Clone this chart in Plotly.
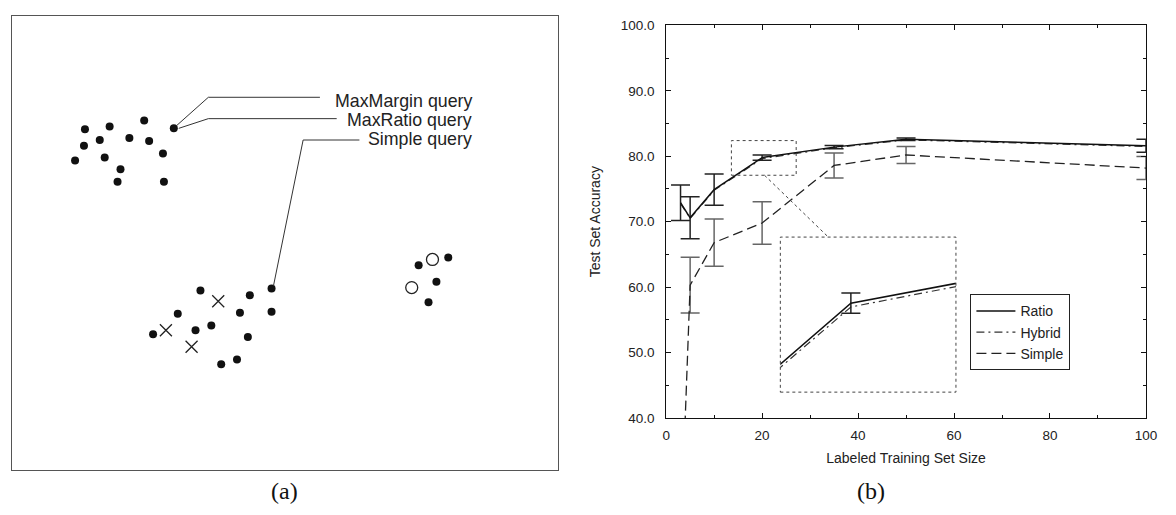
import plotly.graph_objects as go

W, H = 1176, 515
FONT = "Liberation Sans, Arial, Helvetica, sans-serif"
SERIF = "Liberation Serif, Times New Roman, serif"

# ---------------- panel (b): learning curves ----------------
sizes = [3, 5, 10, 20, 35, 50, 100]
ratio_acc = [72.9, 70.6, 74.9, 79.8, 81.4, 82.6, 81.6]
ratio_err = [2.7, 3.2, 2.4, 0.4, 0.25, 0.2, 1.0]
hybrid_acc = [72.8, 70.5, 74.8, 79.65, 81.3, 82.5, 81.5]
simple_acc = [20.5, 60.3, 66.8, 69.8, 78.6, 80.2, 78.2]
simple_err = [0.0, 4.25, 3.6, 3.25, 1.9, 1.3, 1.75]

y_ticks = [40, 50, 60, 70, 80, 90, 100]
x_ticks = [0, 20, 40, 60, 80, 100]

# magnified region and where the magnified view sits (main-axis units)
zoom_box_x = [13.6, 27.1]
zoom_box_y = [77.1, 82.4]
inset_range_x = [15.1, 27.3]
inset_range_y = [76.3, 82.4]
inset_place_x = [23.8, 60.4]
inset_place_y = [43.95, 67.65]
connector_x = [20.5, 33.8]
connector_y = [77.1, 67.65]

# ---------------- panel (a): query illustration ----------------
top_x = [82, 107, 142, 172, 81, 97, 127, 147, 161, 72, 102, 118, 115, 162]
top_y = [126, 123, 117, 125, 143, 137, 135, 138, 151, 158, 155, 167, 180, 180]
low_x = [199, 249, 271, 271, 239, 176, 210, 194, 151, 247, 236, 220]
low_y = [292, 297, 290, 314, 315, 316, 328, 333, 337, 340, 363, 368]
cross_x = [217, 164, 190]
cross_y = [303, 333, 350]
right_x = [420, 450, 438, 430]
right_y = [266, 258, 283, 304]
open_x = [434, 413]
open_y = [260, 289]

query_labels = ["MaxMargin query", "MaxRatio query", "Simple query"]
label_x = 476
label_y = [97, 116, 136]
leader_x = [[175, 207, 320], [177, 207, 337], [273, 303, 360]]
leader_y = [[122, 93, 93], [125, 115, 115], [287, 137, 137]]

# ---------------- geometry (paper fractions) ----------------
main_px_x = (670.7, 1156.7)
main_px_y = (19.0, 423.3)
a_px_x = (8, 561)
a_px_y = (9, 477)

mx = [main_px_x[0] / W, main_px_x[1] / W]
my = [1 - main_px_y[1] / H, 1 - main_px_y[0] / H]
ax_dom = [a_px_x[0] / W, a_px_x[1] / W]
ay_dom = [1 - a_px_y[1] / H, 1 - a_px_y[0] / H]


def to_paper_x(v):
    return mx[0] + (v - 0) / 100 * (mx[1] - mx[0])


def to_paper_y(v):
    return my[0] + (v - 40) / 60 * (my[1] - my[0])


ix = [to_paper_x(inset_place_x[0]), to_paper_x(inset_place_x[1])]
iy = [to_paper_y(inset_place_y[0]), to_paper_y(inset_place_y[1])]

fig = go.Figure()

SIMPLE_DASH = "10px,5px"
HYBRID_DASH = "8px,4px,2px,4px"


def add_series(xa, ya, legend):
    fig.add_trace(go.Scatter(
        x=sizes, y=simple_acc, mode="lines", name="Simple",
        line=dict(color="#222", width=1.3, dash=SIMPLE_DASH),
        error_y=dict(type="data", array=simple_err, color="#666",
                     thickness=1.5, width=9.5),
        xaxis=xa, yaxis=ya, showlegend=legend, legendrank=3))
    fig.add_trace(go.Scatter(
        x=sizes, y=hybrid_acc, mode="lines", name="Hybrid",
        line=dict(color="#333", width=1.2, dash=HYBRID_DASH),
        xaxis=xa, yaxis=ya, showlegend=legend, legendrank=2))
    fig.add_trace(go.Scatter(
        x=sizes, y=ratio_acc, mode="lines", name="Ratio",
        line=dict(color="#111", width=1.5),
        error_y=dict(type="data", array=ratio_err, color="#222",
                     thickness=1.5, width=9.5),
        xaxis=xa, yaxis=ya, showlegend=legend, legendrank=1))


add_series("x", "y", True)
add_series("x3", "y3", False)

# panel (a) marks
fig.add_trace(go.Scatter(x=top_x + low_x + right_x, y=top_y + low_y + right_y,
                         mode="markers", xaxis="x2", yaxis="y2", showlegend=False,
                         marker=dict(size=8, color="#111")))
fig.add_trace(go.Scatter(x=open_x, y=open_y, mode="markers", xaxis="x2", yaxis="y2",
                         showlegend=False,
                         marker=dict(size=12, symbol="circle-open", color="#222",
                                     line=dict(width=1.3))))
fig.add_trace(go.Scatter(x=cross_x, y=cross_y, mode="markers", xaxis="x2", yaxis="y2",
                         showlegend=False,
                         marker=dict(size=12, symbol="x-thin-open", color="#222",
                                     line=dict(width=1.3, color="#222"))))
for lx, ly in zip(leader_x, leader_y):
    fig.add_trace(go.Scatter(x=lx, y=ly, mode="lines", xaxis="x2", yaxis="y2",
                             showlegend=False, line=dict(color="#333", width=1)))

annotations = []
for txt, yy in zip(query_labels, label_y):
    annotations.append(dict(x=label_x, y=yy, xref="x2", yref="y2", text=txt,
                            showarrow=False, xanchor="right", yanchor="middle",
                            font=dict(family=FONT, size=17.8, color="#222")))
annotations.append(dict(x=(a_px_x[0] + a_px_x[1]) / 2 / W, y=1 - 499 / H,
                        xref="paper", yref="paper", text="(a)", showarrow=False,
                        xanchor="center", yanchor="middle",
                        font=dict(family=SERIF, size=24, color="#111")))
annotations.append(dict(x=878 / W, y=1 - 499 / H, xref="paper", yref="paper",
                        text="(b)", showarrow=False,
                        xanchor="center", yanchor="middle",
                        font=dict(family=SERIF, size=24, color="#111")))

shapes = [
    dict(type="rect", xref="x", yref="y", x0=zoom_box_x[0], x1=zoom_box_x[1],
         y0=zoom_box_y[0], y1=zoom_box_y[1], line=dict(color="#444", width=1, dash="dot")),
    dict(type="rect", xref="x3 domain", yref="y3 domain", x0=0, x1=1, y0=0, y1=1,
         line=dict(color="#444", width=1, dash="dot")),
    dict(type="line", xref="x", yref="y", x0=connector_x[0], x1=connector_x[1],
         y0=connector_y[0], y1=connector_y[1], line=dict(color="#444", width=1, dash="dot")),
]

tickfont = dict(family=FONT, size=13.5, color="#222")
axis_common = dict(showline=True, linecolor="#111", linewidth=1, mirror="allticks",
                   ticks="inside", ticklen=5, tickwidth=1, tickcolor="#111",
                   showgrid=False, zeroline=False, tickfont=tickfont)

fig.update_layout(
    width=W, height=H,
    margin=dict(l=0, r=0, t=0, b=0),
    paper_bgcolor="white", plot_bgcolor="white",
    font=dict(family=FONT, color="#222"),
    xaxis=dict(domain=mx, range=[0, 100], tickvals=x_ticks,
               minor=dict(dtick=10, ticks="inside", ticklen=3, tickcolor="#111"),
               title=dict(text="Labeled Training Set Size",
                          font=dict(family=FONT, size=14, color="#222"), standoff=11),
               ticklabelstandoff=5,
               **axis_common),
    yaxis=dict(domain=my, range=[40, 100], tickvals=y_ticks, tickformat=".1f",
               minor=dict(dtick=5, ticks="inside", ticklen=3, tickcolor="#111"),
               title=dict(text="Test Set Accuracy",
                          font=dict(family=FONT, size=14, color="#222"), standoff=16),
               ticklabelstandoff=8,
               **axis_common),
    xaxis2=dict(domain=ax_dom, range=[a_px_x[0], a_px_x[1]], showline=True, mirror=True,
                linecolor="#555", linewidth=1.2, showticklabels=False, ticks="",
                showgrid=False, zeroline=False, anchor="y2"),
    yaxis2=dict(domain=ay_dom, range=[a_px_y[1], a_px_y[0]], showline=True, mirror=True,
                linecolor="#555", linewidth=1.2, showticklabels=False, ticks="",
                showgrid=False, zeroline=False, anchor="x2"),
    xaxis3=dict(domain=ix, range=inset_range_x, visible=False, anchor="y3"),
    yaxis3=dict(domain=iy, range=inset_range_y, visible=False, anchor="x3"),
    legend=dict(x=978.7 / W, y=1 - 295.7 / H, xanchor="left", yanchor="top",
                bgcolor="white", bordercolor="#222", borderwidth=1.2,
                font=dict(family=FONT, size=14, color="#222"),
                itemwidth=39, tracegroupgap=0),
    annotations=annotations,
    shapes=shapes,
    showlegend=True,
)

fig.write_html("out.html")
